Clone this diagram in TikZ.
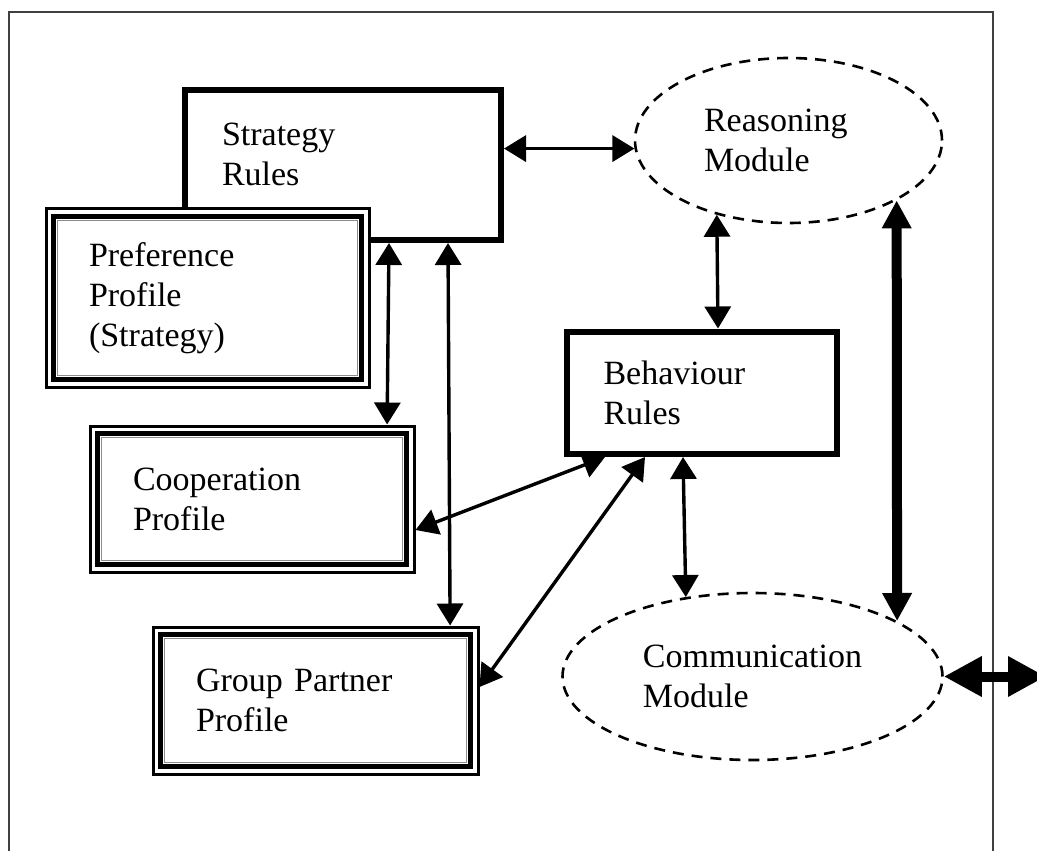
\documentclass[tikz,border=0pt]{standalone}
\usepackage{fontspec}
\setmainfont{Liberation Serif}
\usetikzlibrary{shapes.geometric, arrows.meta, positioning}

\begin{document}
\begin{tikzpicture}
        [
        x=0.5pt, y=-0.5pt,
        every node/.style={font=\fontsize{17}{20}\selectfont, align=left},
        panel/.style={line width=1.2pt, black!75},
        rulebox/.style={draw, rectangle, fill=white, line width=3pt, inner xsep=18.5pt, inner ysep=0pt},
        profile/.style={draw, rectangle, fill=white, line width=1.5pt, inner xsep=21.5pt, inner ysep=0pt,
            path picture={
                \draw[line width=2.6pt] ([shift={(3.9pt,-3.9pt)}]path picture bounding box.north west) rectangle ([shift={(-3.9pt,3.9pt)}]path picture bounding box.south east);
                \draw[black!45, line width=0.7pt] ([shift={(5.7pt,-5.7pt)}]path picture bounding box.north west) rectangle ([shift={(-5.7pt,5.7pt)}]path picture bounding box.south east);
            }},
        module/.style={draw, ellipse, dash pattern=on 5.5pt off 4pt, line width=1.3pt, inner sep=0pt},
        link/.style={{Triangle[length=11pt,width=13pt]}-{Triangle[length=11pt,width=13pt]}, line width=1.7pt},
        biglink/.style={{Triangle[length=14pt,width=14pt]}-{Triangle[length=14pt,width=14pt]}, line width=5pt},
        outlink/.style={{Triangle[length=19pt,width=19pt]}-{Triangle[length=19pt,width=19pt]}, line width=5pt}
        ]

        \useasboundingbox (0,0) rectangle (1037,850);
        \draw[panel] (9,870) -- (9,12) -- (993,12) -- (993,870);

        \node[rulebox, text width=121pt, minimum height=75pt, text depth=31pt] (strat) at (343,165) {Strategy\\Rules};
        \node[profile, text width=118.5pt, minimum height=89pt] (pref) at (207.5,298) {Preference\\Profile\\(Strategy)};
        \node[profile, text width=119pt, minimum height=73pt] (coop) at (252,499) {Cooperation\\Profile};
        \node[profile, text width=119.5pt, minimum height=73.5pt] (group) at (315.5,700.5) {Group Partner\\Profile};

        \node[rulebox, text width=98pt, minimum height=61.25pt] (behav) at (701.5,392.75) {Behaviour\\Rules};

        \node[module, minimum width=153.5pt, minimum height=82.5pt, text width=84.5pt] (reason) at (788.5,140.5) {Reasoning\\Module};
        \node[module, minimum width=190pt, minimum height=83.5pt] (comm) at (752.5,676.5) {Communication\\Module};

        \coordinate (outside) at (1046,676.5);

        % Edges
        \draw[link] (reason.183 -| strat.east) -- (reason.183);
        \draw[link] (reason.226) -- ([xshift=8.25pt]behav.north);
        \draw[link] ([xshift=-9.25pt]behav.south) -- (comm.130);
        \draw[biglink] (reason.-29) -- (comm.21);
        \draw[outlink] (comm.east) -- (outside);

        \draw[link] ([xshift=103.5pt]strat.south west) -- ([xshift=-14.2pt]coop.north east);
        \draw[link] ([xshift=133pt]strat.south west) -- ([xshift=-14.7pt]group.north east);

        \draw[link] ([xshift=20.75pt]behav.south west) -- ([yshift=-15.5pt]coop.east);
        \draw[link] ([xshift=40.75pt]behav.south west) -- ([yshift=6.75pt]group.east);

    \end{tikzpicture}
\end{document}
